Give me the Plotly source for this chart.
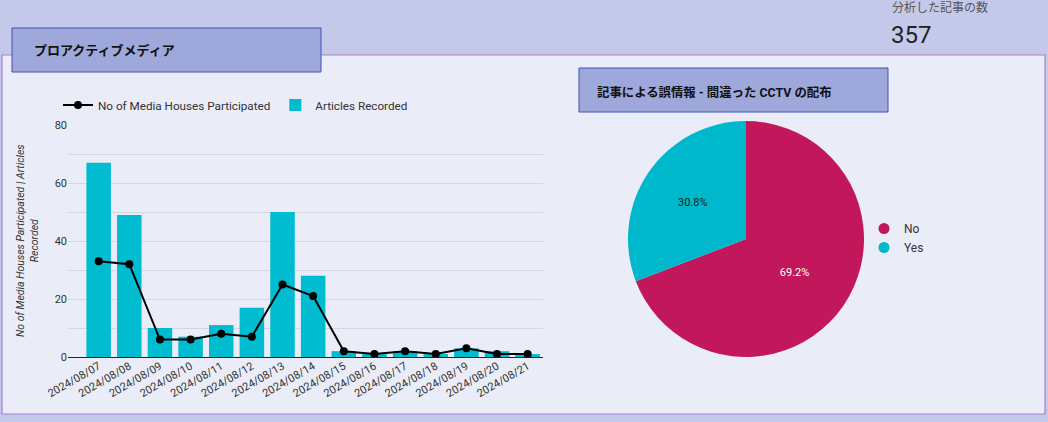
import plotly.graph_objects as go

W, H = 1048, 422

# data
dates = ["2024/08/07", "2024/08/08", "2024/08/09", "2024/08/10", "2024/08/11",
         "2024/08/12", "2024/08/13", "2024/08/14", "2024/08/15", "2024/08/16",
         "2024/08/17", "2024/08/18", "2024/08/19", "2024/08/20", "2024/08/21"]
articles = [67, 49, 10, 7, 11, 17, 50, 28, 2, 1, 2, 1, 3, 2, 1]
media_houses = [33, 32, 6, 6, 8, 7, 25, 21, 2, 1, 2, 1, 3, 1, 1]
pie_labels = ["No", "Yes"]
pie_values = [247, 110]
pie_colors = ["#c2185b", "#00b8cc"]
total_articles = "357"

FONT = "Roboto, 'Noto Sans CJK JP', sans-serif"


def px(x):
    return x / W


def py(y):
    return 1 - y / H


fig = go.Figure()

fig.add_trace(go.Bar(
    x=dates, y=articles, name="Articles Recorded",
    marker=dict(color="#00bcd0", line=dict(width=0)),
    width=0.8, legend="legend",
))
fig.add_trace(go.Scatter(
    x=dates, y=media_houses, name="No of Media Houses Participated",
    mode="lines+markers", line=dict(color="#000000", width=2),
    marker=dict(color="#000000", size=8), legend="legend",
))
fig.add_trace(go.Pie(
    labels=pie_labels, values=pie_values, sort=False, direction="clockwise",
    rotation=0, marker=dict(colors=pie_colors),
    texttemplate="%{percent:.1%}",
    textposition="inside", insidetextorientation="horizontal",
    textfont=dict(color=["#ffffff", "#222222"], size=11, family=FONT),
    domain=dict(x=[px(628), px(864)], y=[py(357), py(121)]),
    showlegend=False, hoverinfo="label+percent",
))
# round legend markers for the pie
for lab, col in zip(pie_labels, pie_colors):
    fig.add_trace(go.Scatter(
        x=[None], y=[None], mode="markers", name=lab,
        marker=dict(color=col, size=11, symbol="circle"),
        legend="legend2",
    ))

shapes = [
    # panel
    dict(type="rect", xref="paper", yref="paper", x0=px(2), x1=px(1045),
         y0=py(414), y1=py(55), fillcolor="#eaedf8",
         line=dict(color="#a97fcf", width=1.2), layer="below"),
    # title boxes
    dict(type="rect", xref="paper", yref="paper", x0=px(12), x1=px(321),
         y0=py(72), y1=py(28), fillcolor="#9fa8da",
         line=dict(color="#3f51b5", width=1), layer="below"),
    dict(type="rect", xref="paper", yref="paper", x0=px(579), x1=px(888),
         y0=py(112), y1=py(68), fillcolor="#9fa8da",
         line=dict(color="#3f51b5", width=1), layer="below"),
]

annotations = [
    dict(text="<b>プロアクティブメディア</b>", x=px(32), y=py(51)),
    dict(text="<b>記事による誤情報 - 間違った CCTV の配布</b>", x=px(595), y=py(92),
         font=dict(size=12.4, color="#111111", family=FONT)),
    dict(text="分析した記事の数", x=px(890), y=py(8),
         font=dict(size=12, color="#555555", family=FONT)),
    dict(text=total_articles, x=px(889), y=py(35),
         font=dict(size=24, color="#222222", family=FONT)),
    dict(text="<i>No of Media Houses Participated | Articles<br>Recorded</i>",
         x=px(28), y=py(241), xanchor="center", textangle=-90,
         font=dict(size=10.5, color="#333333", family=FONT)),
]
for a in annotations:
    a.setdefault("xref", "paper")
    a.setdefault("yref", "paper")
    a.setdefault("xanchor", "left")
    a.setdefault("yanchor", "middle")
    a.setdefault("showarrow", False)
    a.setdefault("font", dict(size=13, color="#111111", family=FONT))

fig.update_layout(
    width=W, height=H,
    margin=dict(l=0, r=0, t=0, b=0),
    paper_bgcolor="#c5c9e9",
    plot_bgcolor="rgba(0,0,0,0)",
    font=dict(family=FONT, size=11, color="#333333"),
    shapes=shapes,
    annotations=annotations,
    xaxis=dict(
        domain=[px(68), px(543)], range=[-1, 14.5], type="category",
        tickangle=-30, showgrid=False, showline=False, ticks="",
        tickfont=dict(size=11, color="#333333"), automargin=False,
    ),
    yaxis=dict(
        domain=[py(357), py(125)], range=[0, 80], dtick=20,
        gridcolor="#d3d6e4", gridwidth=1, zeroline=True, zerolinecolor="#222222",
        zerolinewidth=1.2, showline=False, ticks="", automargin=False,
        minor=dict(dtick=10, showgrid=True, gridcolor="#d3d6e4", gridwidth=1),
        tickfont=dict(size=11, color="#333333"),
    ),
    legend=dict(
        orientation="h", x=px(58), y=py(105), xanchor="left", yanchor="middle",
        bgcolor="rgba(0,0,0,0)", font=dict(size=11.7, color="#333333"),
        traceorder="reversed", itemwidth=30,
    ),
    legend2=dict(
        orientation="v", x=px(864), y=py(238), xanchor="left", yanchor="middle",
        bgcolor="rgba(0,0,0,0)", font=dict(size=12, color="#333333"),
        itemwidth=30, tracegroupgap=0,
    ),
)

fig.write_html("out.html", config={"displayModeBar": False},
               post_script="document.body.style.margin='0';")
